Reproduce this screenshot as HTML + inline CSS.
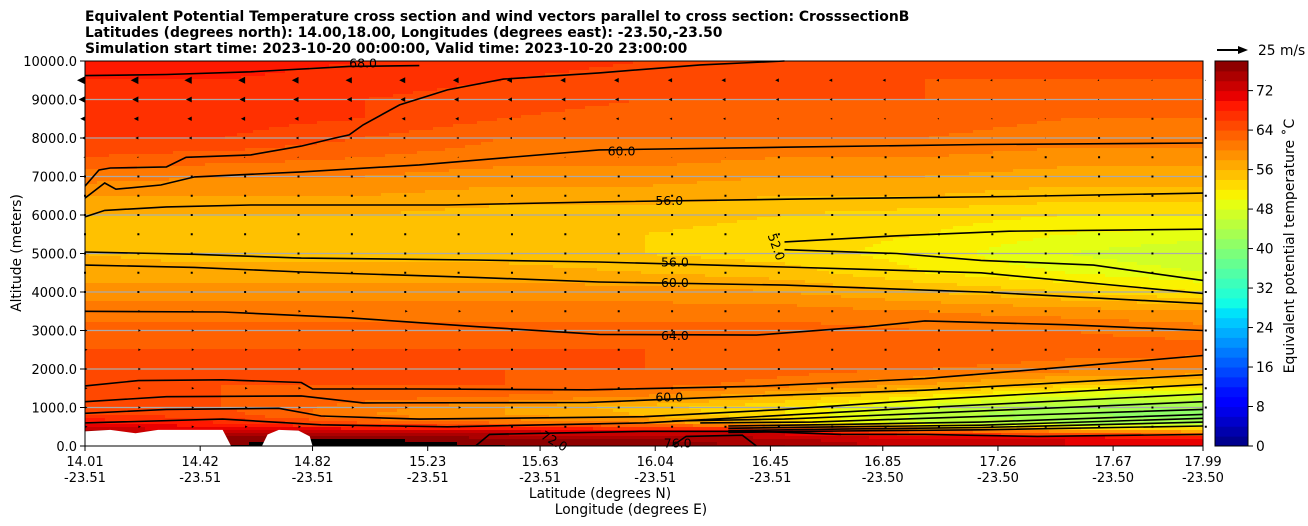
<!DOCTYPE html>
<html><head><meta charset="utf-8">
<style>
body{margin:0;background:#fff;}
svg{display:block;font-family:"DejaVu Sans","Liberation Sans",sans-serif;}
</style></head>
<body>
<svg id="chart" width="1308" height="526" viewBox="0 0 1308 526" xmlns="http://www.w3.org/2000/svg">
<g font-weight="bold" font-size="13.9" fill="#000">
<text x="85" y="21">Equivalent Potential Temperature cross section and wind vectors parallel to cross section: CrosssectionB</text>
<text x="85" y="37">Latitudes (degrees north): 14.00,18.00, Longitudes (degrees east): -23.50,-23.50</text>
<text x="85" y="53">Simulation start time: 2023-10-20 00:00:00, Valid time: 2023-10-20 23:00:00</text>
</g>
<g id="field"></g>
<g id="terrain"></g>
<g id="grid"></g>
<g id="winds"></g>
<g id="contours" fill="none" stroke="#000" stroke-width="1.6"></g>
<g id="clabels" font-size="12.5" fill="#000"></g>
<rect x="85" y="61" width="1118" height="385" fill="none" stroke="#000" stroke-width="1"/>
<g id="xaxis" font-size="13" text-anchor="middle"></g>
<g id="yaxis" font-size="13" text-anchor="end"></g>
<text x="600" y="498" font-size="13.8" text-anchor="middle">Latitude (degrees N)</text>
<text x="631" y="514" font-size="13.8" text-anchor="middle">Longitude (degrees E)</text>
<text transform="translate(21,253) rotate(-90)" font-size="13.8" text-anchor="middle">Altitude (meters)</text>
<g id="cbar" font-size="13.8"></g>
<text transform="translate(1294,246) rotate(-90)" font-size="14" text-anchor="middle">Equivalent potential temperature ˚C</text>
<g>
<line x1="1217" y1="50" x2="1240" y2="50" stroke="#000" stroke-width="2"/>
<polygon points="1248,50 1238,46 1238,54" fill="#000"/>
<text x="1258" y="55" font-size="13.8">25 m/s</text>
</g>
</svg>
<script>
const NS="http://www.w3.org/2000/svg";
const lats=[14.0,14.5,15.0,15.5,16.0,16.5,17.0,17.5,18.0];
const alts=[0,200,400,600,800,1000,1300,1600,2000,2500,3000,3500,4000,4500,5000,5500,6000,6500,7000,7500,8000,8500,9000,9500,10000];
const p140=[78,77,74,70,66,64,64,64,64,64,63,61,59,57,56,55,56,58,61,64,66,67,67,68,70];
const p145=[78,77,72,68,65,64,64,64,64,64,63,61,59,57,55,55,56,58,60,63,66,67,67,68,69];
const p150=[80,78,72,64,60,61,63,64,64,64,63,61,59,57,55,55,56,58,60,62,64,66,66,67,68];
const p155=[78,76,72,62,58,58,62,64,64,64,63,61,59,57,55,55,55,57,59,61,62,64,65,66,67];
const p160=[77,76,70,60,56,55,60,63,64,64,63,61,59,56,54,54,55,57,59,61,62,63,64,65,66];
const p165=[76,74,70,54,52,52,56,61,63,64,63,61,58,55,53,53,54,56,58,60,62,63,64,65,66];
const p170=[73,72,62,46,45,47,52,58,62,64,62,60,56,52,51,52,53,56,58,60,62,63,64,64,65];
const p175=[72,72,58,44,42,43,48,55,61,63,62,59,54,50,48,50,52,55,57,59,61,62,63,64,65];
const p180=[71,70,56,43,41,42,47,54,60,63,61,58,52,48,46,49,52,55,57,59,61,62,63,64,64];
const profiles=[p140,p145,p150,p155,p160,p165,p170,p175,p180];
const xTickLats=[14.01,14.42,14.82,15.23,15.63,16.04,16.45,16.85,17.26,17.67,17.99];
const xTickLons=["-23.51","-23.51","-23.51","-23.51","-23.51","-23.51","-23.51","-23.50","-23.50","-23.50","-23.50"];
const yTicks=[0,1000,2000,3000,4000,5000,6000,7000,8000,9000,10000];
const cbTicks=[0,8,16,24,32,40,48,56,64,72];
const terrainLeft=[[14.01,0],[14.01,380],[14.1,420],[14.19,330],[14.27,420],[14.5,420],[14.53,0]];
const terrainMid=[[14.64,0],[14.66,300],[14.7,420],[14.77,400],[14.81,250],[14.82,0]];
const hotSpot=[[14.92,0],[14.98,100],[15.05,180],[15.12,120],[15.15,0]];
const contours=[
 {v:"68.0",pts:[[14.01,9620],[14.3,9650],[14.6,9720],[14.95,9860],[15.2,9880]],lab:[15.0,9930,0]},
 {v:"64.0",pts:[[14.01,6750],[14.06,7170],[14.1,7220],[14.3,7250],[14.37,7500],[14.6,7560],[14.78,7790],[14.9,8000],[14.95,8080],[15.0,8340],[15.13,8860],[15.3,9250],[15.5,9530],[15.84,9690],[16.2,9900],[16.5,10000]],lab:null},
 {v:"60.0",pts:[[14.01,6440],[14.08,6830],[14.12,6670],[14.28,6780],[14.4,6990],[14.78,7120],[15.2,7300],[15.84,7690],[16.5,7760],[17.2,7830],[17.99,7870]],lab:[15.92,7650,0]},
 {v:"56.0",pts:[[14.01,5950],[14.08,6120],[14.3,6210],[14.6,6260],[15.3,6260],[15.84,6340],[16.6,6420],[17.3,6480],[17.99,6570]],lab:[16.09,6370,0]},
 {v:"52.0",pts:[[16.5,5300],[16.9,5460],[17.3,5580],[17.99,5630]],lab:[16.47,5170,70]},
 {v:"52.0",pts:[[16.5,5100],[16.9,5000],[17.2,4820],[17.6,4700],[17.99,4300]],lab:null},
 {v:"56.0",pts:[[14.01,5040],[14.4,4980],[14.78,4880],[15.4,4830],[15.84,4780],[16.5,4650],[17.2,4500],[17.99,3960]],lab:[16.11,4760,0]},
 {v:"60.0",pts:[[14.01,4700],[14.4,4640],[14.78,4520],[15.4,4380],[15.84,4260],[16.5,4180],[17.2,4000],[17.99,3700]],lab:[16.11,4240,0]},
 {v:"64.0",pts:[[14.01,3500],[14.5,3480],[14.95,3330],[15.4,3100],[15.84,2900],[16.4,2880],[16.8,3100],[17.0,3250],[17.5,3150],[17.99,3000]],lab:[16.11,2860,0]},
 {v:"",pts:[[14.01,1560],[14.2,1700],[14.5,1720],[14.78,1650],[14.82,1480],[15.2,1480],[15.8,1460],[16.4,1550],[17.0,1750],[17.5,2050],[17.99,2350]],lab:null},
 {v:"60.0",pts:[[14.01,1150],[14.3,1280],[14.78,1300],[15.0,1120],[15.8,1130],[16.2,1250],[17.0,1450],[17.99,1850]],lab:[16.09,1260,0]},
 {v:"",pts:[[14.01,850],[14.3,950],[14.7,980],[14.85,780],[15.2,700],[16.0,760],[16.5,950],[17.0,1200],[17.99,1600]],lab:null},
 {v:"",pts:[[14.01,600],[14.5,700],[14.85,550],[15.3,500],[16.0,600],[16.5,800],[17.0,1000],[17.99,1350]],lab:null},
 {v:"",pts:[[16.1,650],[16.5,700],[17.0,850],[17.99,1150]],lab:null},
 {v:"",pts:[[16.2,600],[16.6,620],[17.0,720],[17.99,950]],lab:null},
 {v:"",pts:[[16.3,520],[16.7,560],[17.2,620],[17.99,820]],lab:null},
 {v:"",pts:[[16.3,460],[16.7,500],[17.2,540],[17.99,720]],lab:null},
 {v:"",pts:[[16.3,400],[16.7,440],[17.2,480],[17.99,620]],lab:null},
 {v:"",pts:[[16.3,350],[16.7,390],[17.2,420],[17.99,520]],lab:null},
 {v:"72.0",pts:[[15.4,0],[15.45,300],[15.7,340],[16.0,380],[16.4,380],[16.7,300],[17.0,300],[17.4,250],[17.99,300]],lab:[15.68,120,30]},
 {v:"76.0",pts:[[16.1,0],[16.15,250],[16.35,280],[16.4,0]],lab:[16.12,60,0]}
];
const X0=85,X1=1203,Y0=446,Y1=61;
const xs=l=>X0+(l-14.01)/(17.99-14.01)*(X1-X0);
const ys=a=>Y0-a/10000*(Y0-Y1);
function seg(t,pts){for(let i=0;i<pts.length-1;i++){if(t<=pts[i+1][0]){const f=(t-pts[i][0])/(pts[i+1][0]-pts[i][0]);return pts[i][1]+f*(pts[i+1][1]-pts[i][1]);}}return pts[pts.length-1][1];}
const JR=[[0,0],[0.35,0],[0.66,1],[0.89,1],[1,0.5]],JG=[[0,0],[0.125,0],[0.375,1],[0.64,1],[0.91,0],[1,0]],JB=[[0,0.5],[0.11,1],[0.34,1],[0.65,0],[1,0]];
const jet=t=>`rgb(${Math.round(255*seg(t,JR))},${Math.round(255*seg(t,JG))},${Math.round(255*seg(t,JB))})`;
const lvColor=v=>{let i=Math.floor(v/2);if(i>=39)return "#000";if(i<0)i=0;return jet((i+0.5)/39);};
function interp(arr,x){let i=0;while(i<arr.length-2&&x>arr[i+1])i++;return [i,Math.max(0,Math.min(1,(x-arr[i])/(arr[i+1]-arr[i])))];}
function val(lat,alt){const [i,tx]=interp(lats,lat);const [j,ty]=interp(alts,alt);
 const a=profiles[i][j]*(1-ty)+profiles[i][j+1]*ty,b=profiles[i+1][j]*(1-ty)+profiles[i+1][j+1]*ty;return a*(1-tx)+b*tx;}
const field=document.getElementById('field');
const CW=4,CH=3;
function cell(x0,x1,y,col){const r=document.createElementNS(NS,'rect');
 
 
 r.setAttribute('x',x0);r.setAttribute('y',y);r.setAttribute('width',x1-x0+0.3);r.setAttribute('height',Math.min(CH+0.5,Y0-y));r.setAttribute('fill',col);field.appendChild(r);}
for(let py=Y1;py<Y0;py+=CH){
 let run=null,rx=X0;
 for(let px=X0;px<X1;px+=CW){
  const lat=14.01+(px+CW/2-X0)/(X1-X0)*3.98,alt=(Y0-(py+CH/2))/(Y0-Y1)*10000;
  const col=lvColor(val(lat,alt));
  if(col!==run){ if(run) cell(rx,px,py,run); run=col;rx=px;}
 }
 if(run) cell(rx,X1,py,run);
}
function poly(pts,fill,name,g){const p=document.createElementNS(NS,'polygon');
 
 
 p.setAttribute('points',pts.map(q=>xs(q[0])+','+ys(q[1])).join(' '));p.setAttribute('fill',fill);g.appendChild(p);}
const ter=document.getElementById('terrain');
poly(hotSpot,'#000','hot-spot',ter);
poly(terrainLeft,'#fff','terrain-left',ter);
poly(terrainMid,'#fff','terrain-mid',ter);
const grid=document.getElementById('grid');
yTicks.forEach(t=>{if(t===0||t===10000)return;const l=document.createElementNS(NS,'line');
 
 
 l.setAttribute('x1',X0);l.setAttribute('x2',X1);l.setAttribute('y1',ys(t));l.setAttribute('y2',ys(t));l.setAttribute('stroke','#aaa');l.setAttribute('stroke-width','1.2');grid.appendChild(l);});
const winds=document.getElementById('winds');
for(let r=0;r<19;r++){const alt=9500-r*500;for(let c=0;c<22;c++){
 const lat=14.01+c*0.19;const x=xs(lat),y=ys(alt);
 let u=0; if(alt>=7500) u=-(alt-7000)/2500*(1-c/24)*8; else if(alt<=3500&&c<8) u=2.5;
 const g=document.createElementNS(NS,'polygon');
 
 
 const s=Math.abs(u);
 if(s<0.8){g.setAttribute('points',`${x-1},${y-1} ${x+1},${y-1} ${x+1},${y+1} ${x-1},${y+1}`);}
 else {const d=Math.sign(u);g.setAttribute('points',`${x+d*s},${y} ${x},${y-s*0.5} ${x},${y+s*0.5}`);}
 g.setAttribute('fill','#000');winds.appendChild(g);}}
const cg=document.getElementById('contours'),lg=document.getElementById('clabels');
contours.forEach(c=>{const p=document.createElementNS(NS,'polyline');
 
 
 p.setAttribute('points',c.pts.map(q=>xs(q[0]).toFixed(1)+','+ys(q[1]).toFixed(1)).join(' '));cg.appendChild(p);
 if(c.lab){const t=document.createElementNS(NS,'text');
  
  
  const x=xs(c.lab[0]),y=ys(c.lab[1]);t.setAttribute('x',x);t.setAttribute('y',y+4);t.setAttribute('text-anchor','middle');
  if(c.lab[2])t.setAttribute('transform',`rotate(${c.lab[2]},${x},${y})`);t.textContent=c.v;lg.appendChild(t);}});
const xa=document.getElementById('xaxis');
xTickLats.forEach((l,i)=>{const x=xs(l);
 const tk=document.createElementNS(NS,'line');
 
 
 tk.setAttribute('x1',x);tk.setAttribute('x2',x);tk.setAttribute('y1',446);tk.setAttribute('y2',451);tk.setAttribute('stroke','#000');xa.appendChild(tk);
 const t=document.createElementNS(NS,'text');
 
 
 t.setAttribute('x',x);t.setAttribute('y',466);t.textContent=l.toFixed(2);xa.appendChild(t);
 const t2=document.createElementNS(NS,'text');
 
 
 t2.setAttribute('x',x);t2.setAttribute('y',482);t2.textContent=xTickLons[i];xa.appendChild(t2);});
const ya=document.getElementById('yaxis');
yTicks.forEach(v=>{const y=ys(v);
 const tk=document.createElementNS(NS,'line');
 
 
 tk.setAttribute('x1',80);tk.setAttribute('x2',85);tk.setAttribute('y1',y);tk.setAttribute('y2',y);tk.setAttribute('stroke','#000');ya.appendChild(tk);
 const t=document.createElementNS(NS,'text');
 
 
 t.setAttribute('x',77);t.setAttribute('y',y+5);t.textContent=v.toFixed(1);ya.appendChild(t);});
const cb=document.getElementById('cbar');
const CB0=446,CBTOP=61,CBMAX=78,cy=v=>CB0-v/CBMAX*(CB0-CBTOP);
for(let v=0;v<CBMAX;v+=2){const r=document.createElementNS(NS,'rect');
 
 
 r.setAttribute('x',1215);r.setAttribute('y',cy(v+2));r.setAttribute('width',33);r.setAttribute('height',cy(v)-cy(v+2)+0.5);r.setAttribute('fill',lvColor(v+1));cb.appendChild(r);}
const fr=document.createElementNS(NS,'rect');


fr.setAttribute('x',1215);fr.setAttribute('y',61);fr.setAttribute('width',33);fr.setAttribute('height',385);fr.setAttribute('fill','none');fr.setAttribute('stroke','#000');cb.appendChild(fr);
cbTicks.forEach(v=>{const y=cy(v);
 const tk=document.createElementNS(NS,'line');
 
 
 tk.setAttribute('x1',1248);tk.setAttribute('x2',1253);tk.setAttribute('y1',y);tk.setAttribute('y2',y);tk.setAttribute('stroke','#000');cb.appendChild(tk);
 const t=document.createElementNS(NS,'text');
 
 
 t.setAttribute('x',1256);t.setAttribute('y',y+5);t.textContent=v;cb.appendChild(t);});
</script>
</body></html>
